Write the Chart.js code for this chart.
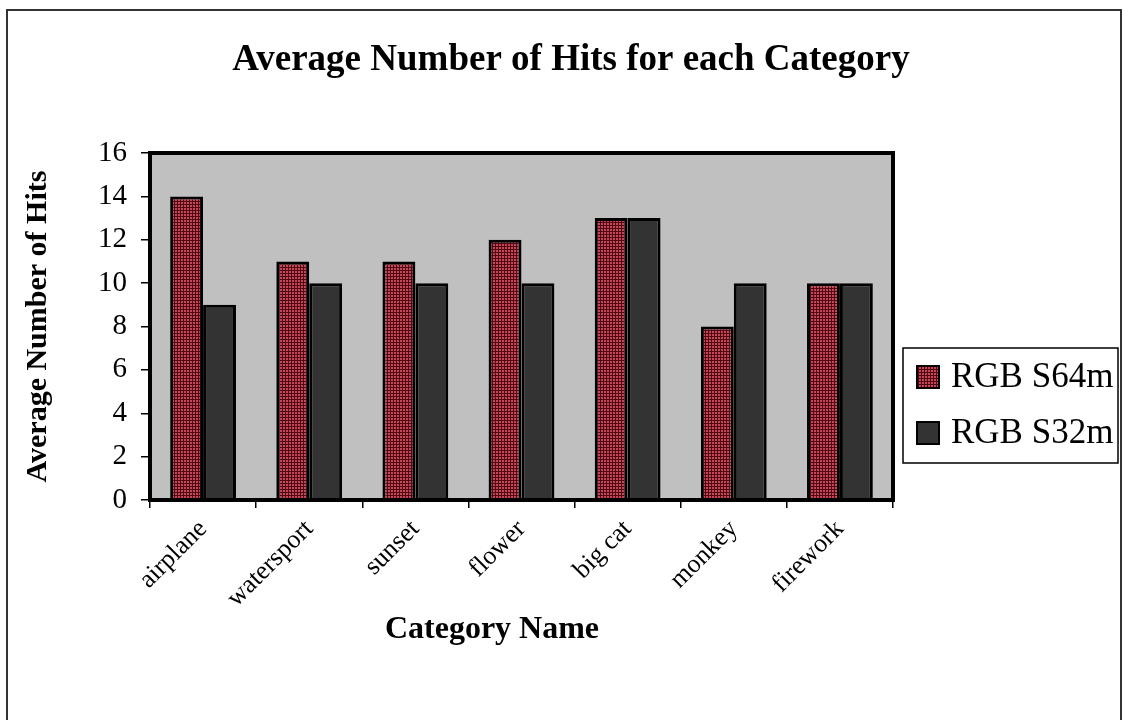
<!DOCTYPE html>
<html>
<head>
<meta charset="utf-8">
<script src="https://cdn.jsdelivr.net/npm/chart.js@4.4.0/dist/chart.umd.min.js"></script>
<style>
  body { margin: 0; background: #fff; }
  #wrap { width: 1125px; height: 720px; }
</style>
</head>
<body>
<div id="wrap"><canvas id="chart" width="1125" height="720"></canvas></div>
<script>
// data
var categories = ['airplane', 'watersport', 'sunset', 'flower', 'big cat', 'monkey', 'firework'];
var s64 = [14, 11, 11, 12, 13, 8, 10];
var s32 = [9, 10, 10, 10, 13, 10, 10];
var seriesNames = ['RGB S64m', 'RGB S32m'];
var chartTitle = 'Average Number of Hits for each Category';
var xTitle = 'Category Name';

// red checkered fill like the old excel pattern
function makePattern() {
    var c = document.createElement('canvas');
    c.width = 3; c.height = 3;
    var g = c.getContext('2d');
    g.fillStyle = '#c44858';
    g.fillRect(0, 0, 3, 3);
    g.fillStyle = '#500812';
    g.fillRect(0, 0, 3, 1);
    g.fillRect(0, 0, 1, 3);
    return g.createPattern(c, 'repeat');
}
var ctx = document.getElementById('chart').getContext('2d');
var redFill = makePattern();
var darkFill = '#333333';

var serif = "'Liberation Serif', 'DejaVu Serif', serif";

var framePlugin = {
    id: 'frame',
    beforeDraw: function(chart) {
        var c = chart.ctx, a = chart.chartArea;
        c.save();
        c.fillStyle = '#fff';
        c.fillRect(0, 0, chart.width, chart.height);
        c.strokeStyle = '#333';
        c.lineWidth = 2;
        c.strokeRect(7, 10, 1114, 720);
        c.fillStyle = '#c0c0c0';
        c.fillRect(a.left, a.top, a.right - a.left, a.bottom - a.top);
        c.restore();
    },
    afterDatasetsDraw: function(chart) {
        var c = chart.ctx, a = chart.chartArea;
        c.save();
        c.strokeStyle = '#000';
        c.lineWidth = 4;
        c.strokeRect(a.left, a.top, a.right - a.left, a.bottom - a.top);
        c.restore();
    },
    afterDraw: function(chart) {
        var c = chart.ctx;
        c.save();
        // titles sit centred on the whole figure, not on the plot
        c.fillStyle = '#000';
        c.textAlign = 'center';
        c.textBaseline = 'middle';
        c.font = 'bold 37px ' + serif;
        c.fillText(chartTitle, 571, 60);
        c.font = 'bold 32px ' + serif;
        c.fillText(xTitle, 492, 630);

        // boxed legend on the right
        var x = 903, y = 348, w = 215, h = 115;
        c.textAlign = 'left';
        c.fillStyle = '#fff';
        c.fillRect(x, y, w, h);
        c.strokeStyle = '#000';
        c.lineWidth = 1.5;
        c.strokeRect(x, y, w, h);
        c.font = '35px ' + serif;
        var fills = [redFill, darkFill];
        chart.data.datasets.forEach(function(ds, i) {
            var cy = y + 29 + i * 56;
            c.fillStyle = fills[i];
            c.fillRect(917, cy - 11, 22, 22);
            c.strokeStyle = '#000';
            c.lineWidth = 2;
            c.strokeRect(917, cy - 11, 22, 22);
            c.fillStyle = '#000';
            c.fillText(ds.label, 951, cy + 1);
        });
        c.restore();
    }
};

var chart = new Chart(ctx, {
    type: 'bar',
    data: {
        labels: categories,
        datasets: [{
            label: seriesNames[0],
            data: s64,
            backgroundColor: redFill,
            borderColor: '#000',
            borderWidth: 3,
            categoryPercentage: 0.62,
            barPercentage: 1.0
        }, {
            label: seriesNames[1],
            data: s32,
            backgroundColor: darkFill,
            borderColor: '#000',
            borderWidth: 3,
            categoryPercentage: 0.62,
            barPercentage: 1.0
        }]
    },
    options: {
        responsive: false,
        animation: false,
        layout: { padding: { left: 10, right: 232, top: 153, bottom: 0 } },
        plugins: {
            legend: { display: false },
            tooltip: { enabled: false },
            title: { display: false }
        },
        scales: {
            x: {
                grid: { display: true, drawOnChartArea: false, drawTicks: true, tickLength: 8, color: '#000', lineWidth: 1.5, offset: true },
                border: { display: false },
                ticks: {
                    color: '#000',
                    font: { family: serif, size: 26 },
                    maxRotation: 45, minRotation: 45,
                    padding: 6
                },
                afterFit: function(scale) { scale.height = 220; }
            },
            y: {
                min: 0, max: 16,
                grid: { display: true, drawOnChartArea: false, drawTicks: true, tickLength: 9, color: '#000', lineWidth: 1.5 },
                border: { display: false },
                ticks: {
                    stepSize: 2,
                    color: '#000',
                    font: { family: serif, size: 29 },
                    padding: 14
                },
                title: {
                    display: true,
                    text: 'Average Number of Hits',
                    color: '#000',
                    font: { family: serif, size: 30, weight: 'bold' },
                    padding: { top: 10, bottom: 0 }
                },
                afterFit: function(scale) { scale.width = 140; }
            }
        }
    },
    plugins: [framePlugin]
});
</script>
</body>
</html>
